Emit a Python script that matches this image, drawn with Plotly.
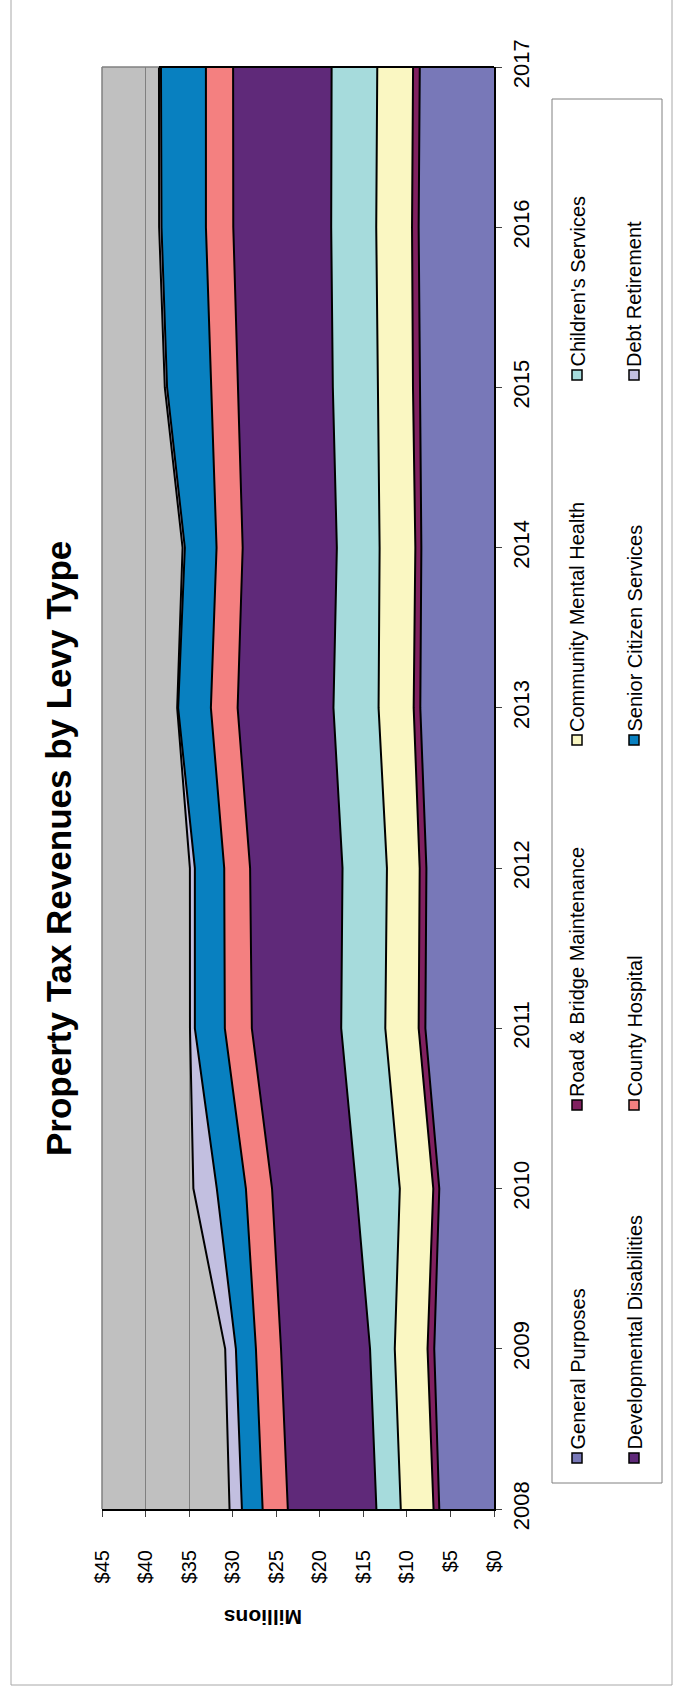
import plotly.graph_objects as go

# Property tax revenue by levy type, millions of dollars per year
years = [2008, 2009, 2010, 2011, 2012, 2013, 2014, 2015, 2016, 2017]
general_purposes = [6.28, 6.86, 6.28, 7.88, 7.76, 8.46, 8.34, 8.53, 8.65, 8.52]
road_bridge = [0.66, 0.77, 0.69, 0.77, 0.77, 0.76, 0.69, 0.77, 0.76, 0.77]
mental_health = [3.76, 3.76, 3.84, 3.83, 3.76, 4.03, 4.10, 4.03, 4.11, 4.11]
childrens = [2.80, 2.84, 5.00, 5.06, 5.10, 5.18, 4.91, 5.17, 5.17, 5.24]
dev_disabilities = [10.17, 10.22, 9.67, 10.26, 10.61, 11.00, 10.81, 10.93, 11.24, 11.31]
county_hospital = [2.89, 2.88, 3.00, 3.10, 2.97, 3.07, 3.00, 3.07, 3.14, 3.12]
senior_citizen = [2.38, 2.30, 3.34, 3.44, 3.37, 3.76, 3.64, 5.03, 5.10, 5.16]
debt_retirement = [1.42, 1.23, 2.69, 0.56, 0.57, 0.11, 0.26, 0.26, 0.27, 0.23]

series_names = [
    "General Purposes", "Road & Bridge Maintenance", "Community Mental Health",
    "Children's Services", "Developmental Disabilities", "County Hospital",
    "Senior Citizen Services", "Debt Retirement",
]
series_values = [
    general_purposes, road_bridge, mental_health, childrens,
    dev_disabilities, county_hospital, senior_citizen, debt_retirement,
]
series_colors = [
    "#7878B8", "#80205F", "#FAF7C2", "#A6DBDC",
    "#5F2979", "#F48080", "#0880C0", "#C2BFE0",
]

value_ticks = list(range(0, 50, 5))
value_tick_labels = [f"${v}" for v in value_ticks]
year_ticks = years
year_tick_labels = [str(y) for y in years]

W, H = 677, 1690
L, R, T, B = 102, 183, 67, 181
PW, PH = W - L - R, H - T - B
FONT = "Liberation Sans, Arial, sans-serif"


def px(x):
    return (x - L) / PW


def py(y):
    return (H - B - y) / PH


fig = go.Figure()

# stacked areas, stacking along the horizontal value axis
for name, vals, color in zip(series_names, series_values, series_colors):
    fig.add_trace(go.Scatter(
        x=vals, y=years, name=name, mode="lines",
        orientation="h", stackgroup="levy",
        fillcolor=color, line=dict(color="black", width=2),
        showlegend=False,
    ))

total_last = sum(v[-1] for v in series_values)

shapes = []
# outer chart frame
shapes.append(dict(type="rect", xref="paper", yref="paper",
                   x0=px(11), x1=px(672), y0=py(1685), y1=py(-5),
                   line=dict(color="#A8A8A8", width=1), layer="below"))
# plot area border (left and top)
shapes.append(dict(type="line", xref="paper", yref="paper",
                   x0=0, x1=0, y0=0, y1=1,
                   line=dict(color="#808080", width=1.5), layer="above"))
shapes.append(dict(type="line", xref="x", yref="paper",
                   x0=45, x1=total_last, y0=1, y1=1,
                   line=dict(color="#808080", width=1.5), layer="above"))
# outline of the stacked areas along the last year
shapes.append(dict(type="line", xref="x", yref="paper",
                   x0=0, x1=total_last, y0=1, y1=1,
                   line=dict(color="black", width=2), layer="above"))

# legend box
shapes.append(dict(type="rect", xref="paper", yref="paper",
                   x0=px(552), x1=px(662), y0=py(1483), y1=py(99),
                   line=dict(color="#808080", width=1), fillcolor="white",
                   layer="below"))

annotations = []
legend_cols = [577, 634]
legend_rows = [1458, 1105, 740, 375]
for i, (name, color) in enumerate(zip(series_names, series_colors)):
    col = i // 4
    row = i % 4
    cx = legend_cols[col]
    sy = legend_rows[row]
    shapes.append(dict(type="rect", xref="paper", yref="paper",
                       x0=px(cx - 5), x1=px(cx + 5),
                       y0=py(sy + 5), y1=py(sy - 5),
                       fillcolor=color, line=dict(color="black", width=1.5),
                       layer="above"))
    annotations.append(dict(
        text=name, xref="paper", yref="paper",
        x=px(cx), y=py(sy - 7), xanchor="center", yanchor="bottom",
        textangle=-90, showarrow=False, borderpad=0,
        font=dict(family=FONT, size=20, color="black"),
    ))

# chart title
annotations.append(dict(
    text="<b>Property Tax Revenues by Levy Type</b>",
    xref="paper", yref="paper", x=px(58), y=py(849),
    xanchor="center", yanchor="middle", textangle=-90, showarrow=False,
    font=dict(family=FONT, size=35, color="black"),
))
# value axis title
annotations.append(dict(
    text="<b>Millions</b>",
    xref="paper", yref="paper", x=px(263), y=py(1618),
    xanchor="center", yanchor="middle", textangle=180, showarrow=False,
    font=dict(family=FONT, size=21, color="black"),
))

fig.update_layout(
    width=W, height=H,
    margin=dict(l=L, r=R, t=T, b=B, pad=0),
    paper_bgcolor="white", plot_bgcolor="#C0C0C0",
    showlegend=False,
    shapes=shapes, annotations=annotations,
    font=dict(family=FONT, color="black"),
)

fig.update_xaxes(
    range=[45, 0], tickvals=value_ticks, ticktext=value_tick_labels,
    tickangle=-90, tickfont=dict(family=FONT, size=20, color="black"),
    ticks="outside", ticklen=6, tickcolor="#404040", tickwidth=1,
    ticklabelstandoff=25,
    showgrid=True, gridcolor="#808080", gridwidth=1,
    showline=True, linecolor="black", linewidth=2, zeroline=False,
)
fig.update_yaxes(
    range=[2008, 2017], tickvals=year_ticks, ticktext=year_tick_labels,
    side="right", tickangle=-90,
    tickfont=dict(family=FONT, size=22, color="black"),
    ticks="outside", ticklen=6, tickcolor="#404040", tickwidth=1,
    ticklabelstandoff=1,
    showgrid=False, showline=True, linecolor="black", linewidth=2,
    zeroline=False,
)

fig.write_html("out.html")
